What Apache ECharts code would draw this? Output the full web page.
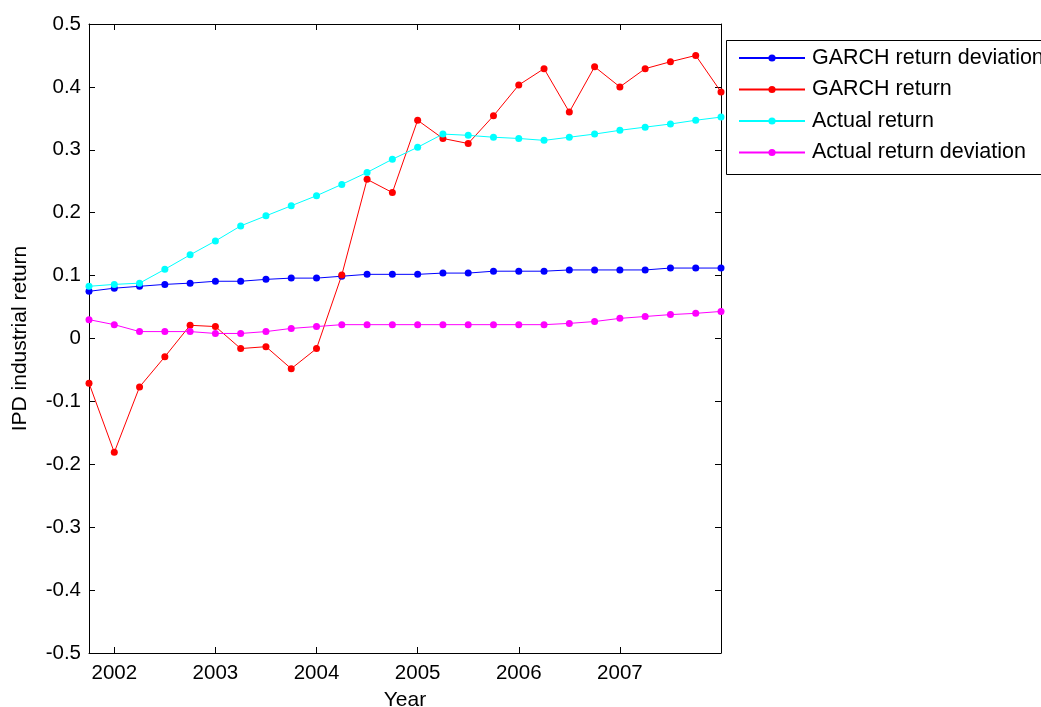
<!DOCTYPE html>
<html>
<head>
<meta charset="utf-8">
<script src="https://cdn.jsdelivr.net/npm/echarts@6/dist/echarts.min.js"></script>
<style>
  html, body { margin: 0; padding: 0; background: #fff; }
  #chart { width: 1041px; height: 707px; }
</style>
</head>
<body>
<div id="chart"></div>
<script>
// Quarter positions (decimal years)
const quarters = [2001.75, 2002.00, 2002.25, 2002.50, 2002.75, 2003.00, 2003.25, 2003.50, 2003.75,
                  2004.00, 2004.25, 2004.50, 2004.75, 2005.00, 2005.25, 2005.50, 2005.75,
                  2006.00, 2006.25, 2006.50, 2006.75, 2007.00, 2007.25, 2007.50, 2007.75, 2008.00];

const garchDeviation = [0.075, 0.080, 0.083, 0.086, 0.088, 0.091, 0.091, 0.094, 0.096, 0.096,
                        0.099, 0.102, 0.102, 0.102, 0.104, 0.104, 0.107, 0.107, 0.107,
                        0.109, 0.109, 0.109, 0.109, 0.112, 0.112, 0.112];

const garchReturn = [-0.071, -0.181, -0.077, -0.029, 0.021, 0.019, -0.016, -0.013, -0.048, -0.016,
                     0.101, 0.253, 0.232, 0.347, 0.318, 0.310, 0.354, 0.403, 0.429,
                     0.360, 0.432, 0.400, 0.429, 0.440, 0.450, 0.392];

const actualReturn = [0.083, 0.086, 0.088, 0.110, 0.133, 0.155, 0.179, 0.195, 0.211, 0.227,
                      0.245, 0.264, 0.285, 0.304, 0.325, 0.323, 0.320, 0.318, 0.315,
                      0.320, 0.325, 0.331, 0.336, 0.341, 0.347, 0.352];

const actualDeviation = [0.030, 0.022, 0.011, 0.011, 0.011, 0.008, 0.008, 0.011, 0.016, 0.019,
                         0.022, 0.022, 0.022, 0.022, 0.022, 0.022, 0.022, 0.022, 0.022,
                         0.024, 0.027, 0.032, 0.035, 0.038, 0.040, 0.043];

const yearTicks = [2002, 2003, 2004, 2005, 2006, 2007];
const seriesNames = ['GARCH return deviation', 'GARCH return', 'Actual return', 'Actual return deviation'];
const seriesColors = ['#0000ff', '#ff0000', '#00ffff', '#ff00ff'];
const seriesValues = [garchDeviation, garchReturn, actualReturn, actualDeviation];

const FONT = "'Liberation Sans', Arial, Helvetica, sans-serif";
const chart = echarts.init(document.getElementById('chart'), null, { renderer: 'canvas' });

const frameLine = { show: true, onZero: false, lineStyle: { color: '#000', width: 1 } };
const innerTick = { show: true, inside: true, length: 6, lineStyle: { color: '#000', width: 1 } };

chart.setOption({
  animation: false,
  backgroundColor: '#fff',
  textStyle: { fontFamily: FONT },
  grid: { left: 89, right: 320, top: 24, bottom: 54, containLabel: false, outerBoundsMode: 'none' },
  xAxis: [
    {
      type: 'value', position: 'bottom', min: 2001.75, max: 2008,
      name: 'Year', nameLocation: 'middle', nameGap: 37,
      nameTextStyle: { fontSize: 21, color: '#000', fontFamily: FONT },
      axisLine: frameLine,
      axisTick: Object.assign({}, innerTick, { customValues: yearTicks }),
      axisLabel: { customValues: yearTicks, fontSize: 20.5, color: '#000', margin: 10, fontFamily: FONT,
                   formatter: v => String(v) },
      splitLine: { show: false }
    },
    {
      type: 'value', position: 'top', min: 2001.75, max: 2008,
      axisLine: frameLine,
      axisTick: Object.assign({}, innerTick, { customValues: yearTicks }),
      axisLabel: { show: false },
      splitLine: { show: false }
    }
  ],
  yAxis: [
    {
      type: 'value', position: 'left', min: -0.5, max: 0.5, interval: 0.1,
      name: 'IPD industrial return', nameLocation: 'middle', nameGap: 58, nameRotate: 90,
      nameTextStyle: { fontSize: 21, color: '#000', fontFamily: FONT },
      axisLine: frameLine,
      axisTick: innerTick,
      axisLabel: { fontSize: 20.5, color: '#000', margin: 8, fontFamily: FONT,
                   formatter: v => String(Math.round(v * 10) / 10) },
      splitLine: { show: false }
    },
    {
      type: 'value', position: 'right', min: -0.5, max: 0.5, interval: 0.1,
      axisLine: frameLine,
      axisTick: innerTick,
      axisLabel: { show: false },
      splitLine: { show: false }
    }
  ],
  legend: {
    orient: 'vertical', left: 738, top: 46,
    itemWidth: 66, itemHeight: 9, itemGap: 7.5,
    padding: 0,
    data: seriesNames,
    textStyle: { fontSize: 21.5, lineHeight: 24, color: '#000', fontFamily: FONT, padding: [0, 0, 0, 2] }
  },
  graphic: [
    {
      type: 'rect', left: 724, top: 38, z: 100,
      shape: { width: 400, height: 134 },
      style: { fill: null, stroke: '#000', lineWidth: 1 }
    }
  ],
  series: seriesNames.map((name, i) => ({
    name: name,
    type: 'line',
    xAxisIndex: 0, yAxisIndex: 0,
    data: quarters.map((q, k) => [q, seriesValues[i][k]]),
    symbol: 'circle', symbolSize: 7,
    showAllSymbol: true,
    clip: false,
    lineStyle: { color: seriesColors[i], width: 1 },
    itemStyle: { color: seriesColors[i] },
    emphasis: { disabled: true }
  }))
});
</script>
</body>
</html>
